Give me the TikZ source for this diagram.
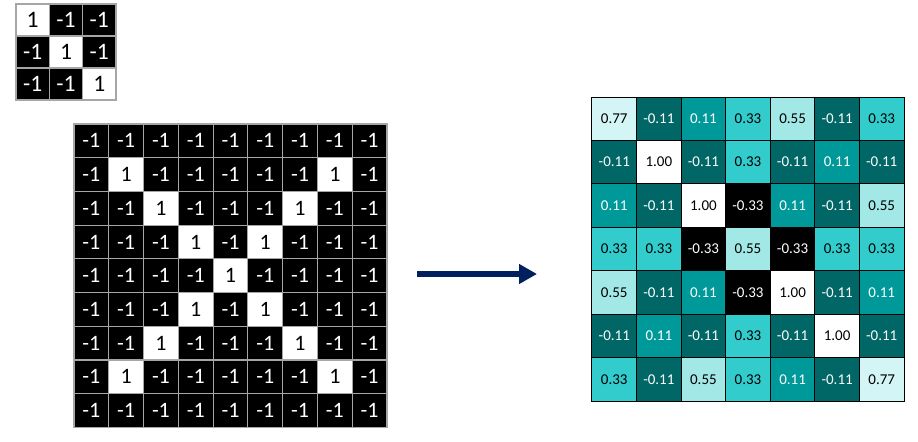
\documentclass[tikz,border=0pt]{standalone}
\usepackage{fontspec}
\setmainfont{Carlito}
\usetikzlibrary{arrows.meta}

\definecolor{navy}{HTML}{002060}
\definecolor{gridgray}{HTML}{A6A6A6}
\definecolor{tealA}{HTML}{D3F5F5}
\definecolor{tealB}{HTML}{A2E8E6}
\definecolor{tealC}{HTML}{33CCCC}
\definecolor{tealD}{HTML}{009999}
\definecolor{tealE}{HTML}{006666}

\begin{document}
\begin{tikzpicture}[
  x=0.5pt, y=-0.5pt,
  kcell/.style={draw=gridgray, line width=0.6pt, inner sep=0pt,
                minimum width=16.67pt, minimum height=16pt, font=\fontsize{11.8}{12}\selectfont},
  icell/.style={draw=gridgray, line width=0.6pt, inner sep=0pt,
                minimum width=17.4pt, minimum height=16.85pt, font=\fontsize{11}{12}\selectfont},
  ocell/.style={draw=black, line width=0.5pt, inner sep=0pt,
                minimum width=22.3pt, minimum height=21.7pt, font=\fontsize{7.5}{8}\selectfont},
  darkcell/.style={fill=black, text=white},
  lightcell/.style={fill=white, text=black},
  p77/.style={ocell, fill=tealA, text=black},
  p55/.style={ocell, fill=tealB, text=black},
  p33/.style={ocell, fill=tealC, text=black},
  p11/.style={ocell, fill=tealD, text=white},
  m11/.style={ocell, fill=tealE, text=white},
  m33/.style={ocell, fill=black, text=white},
  one/.style={ocell, fill=white, text=black},
  arr/.style={-{Triangle[length=9pt, width=9.5pt]}, line width=2.6pt, draw=navy}
]
  \useasboundingbox (0,0) rectangle (918,441);

  % filter
  \foreach \r in {0,1,2}
    \foreach \c in {0,1,2} {
      \ifnum\r=\c
        \node[kcell, lightcell] (k-\r-\c) at ({16+33.33*(\c+0.5)}, {4+32*(\r+0.5)}) {1};
      \else
        \node[kcell, darkcell] (k-\r-\c) at ({16+33.33*(\c+0.5)}, {4+32*(\r+0.5)}) {-1};
      \fi
    }

  % input image
  \foreach \r in {0,...,8}
    \foreach \c in {0,...,8} {
      \pgfmathtruncatemacro\hit{and(\r>0,\r<8)*or(\r==\c,\r+\c==8)}
      \ifnum\hit=1
        \node[icell, lightcell] (in-\r-\c) at ({74+34.78*(\c+0.5)}, {124+33.7*(\r+0.5)}) {1};
      \else
        \node[icell, darkcell] (in-\r-\c) at ({74+34.78*(\c+0.5)}, {124+33.7*(\r+0.5)}) {-1};
      \fi
    }

  % feature map
  \foreach \row [count=\r from 0] in {
      {p77/0.77, m11/-0.11, p11/0.11, p33/0.33, p55/0.55, m11/-0.11, p33/0.33},
      {m11/-0.11, one/1.00, m11/-0.11, p33/0.33, m11/-0.11, p11/0.11, m11/-0.11},
      {p11/0.11, m11/-0.11, one/1.00, m33/-0.33, p11/0.11, m11/-0.11, p55/0.55},
      {p33/0.33, p33/0.33, m33/-0.33, p55/0.55, m33/-0.33, p33/0.33, p33/0.33},
      {p55/0.55, m11/-0.11, p11/0.11, m33/-0.33, one/1.00, m11/-0.11, p11/0.11},
      {m11/-0.11, p11/0.11, m11/-0.11, p33/0.33, m11/-0.11, one/1.00, m11/-0.11},
      {p33/0.33, m11/-0.11, p55/0.55, p33/0.33, p11/0.11, m11/-0.11, p77/0.77}}
    \foreach \s/\t [count=\c from 0] in \row
      \node[\s] (out-\r-\c) at ({592+44.57*(\c+0.5)}, {97+43.43*(\r+0.5)}) {\t};

  \coordinate (src) at (417,274);
  \coordinate (dst) at (537,274);
  \draw[arr] (src) -- (dst);
\end{tikzpicture}
\end{document}
